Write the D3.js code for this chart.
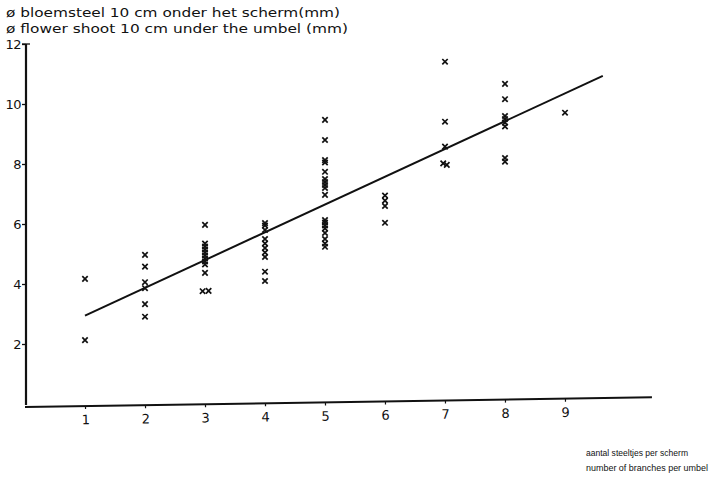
<!DOCTYPE html>
<html>
<head>
<meta charset="utf-8">
<script src="https://cdn.jsdelivr.net/npm/d3@7"></script>
<style>
  html, body { margin: 0; padding: 0; background: #fff; }
  svg { display: block; }
  text { font-family: "DejaVu Sans", sans-serif; fill: #111; }
</style>
</head>
<body>
<svg id="chart" width="711" height="481"></svg>
<script>
// Stem diameter (mm) measured 10 cm below the umbel, grouped by branch count
const branchCounts = [1, 2, 3, 4, 5, 6, 7, 8, 9];
const diam1 = [4.17, 2.13];
const diam2 = [4.97, 4.58, 4.06, 3.86, 3.33, 2.91];
const diam3 = [5.97, 5.35, 5.25, 5.15, 5.05, 4.95, 4.85, 4.75, 4.65, 4.37, 3.76, 3.77];
const diam4 = [6.03, 5.95, 5.8, 5.5, 5.35, 5.2, 5.05, 4.9, 4.41, 4.1];
const diam5 = [9.47, 8.8, 8.13, 8.05, 7.74, 7.5, 7.4, 7.3, 7.2, 6.97, 6.13, 6.05, 5.95, 5.85, 5.7, 5.5, 5.35, 5.24];
const diam6 = [6.95, 6.78, 6.6, 6.04];
const diam7 = [11.41, 9.41, 8.58, 8.02, 7.97];
const diam8 = [10.67, 10.16, 9.6, 9.5, 9.38, 9.25, 8.2, 8.08];
const diam9 = [9.71];
const diameters = [diam1, diam2, diam3, diam4, diam5, diam6, diam7, diam8, diam9];

// Fitted regression line
const trendIntercept = 2.02;
const trendSlope = 0.926;
const trendFrom = 1;
const trendTo = 9.63;

const yTicks = [2, 4, 6, 8, 10, 12];
const xTicks = [1, 2, 3, 4, 5, 6, 7, 8, 9];

const titleLines = [
  "ø bloemsteel 10 cm onder het scherm(mm)",
  "ø flower shoot 10 cm under the umbel (mm)"
];
const xLabelLines = [
  "aantal steeltjes per scherm",
  "number of branches per umbel"
];

const svg = d3.select("#chart");

const x = d3.scaleLinear().domain([0, 10.45]).range([25, 652]);
const y = d3.scaleLinear().domain([0, 12]).range([404, 44]);

// Flatten the groups into points; coincident readings are nudged apart
const points = [];
diameters.forEach((vals, i) => {
  vals.forEach((v, j) => {
    let bx = branchCounts[i];
    if (bx === 3 && j >= 10) bx += (j === 10 ? -0.04 : 0.06);
    if (bx === 7 && j >= 3) bx += (j === 3 ? -0.03 : 0.03);
    points.push({ b: bx, d: v });
  });
});

// Y axis
const yAxis = d3.axisLeft(y).tickValues(yTicks).tickSize(4).tickPadding(1).tickFormat(d3.format("d"));
const gy = svg.append("g").attr("transform", "translate(26,0)").call(yAxis);
gy.select(".domain").attr("stroke", "#111").attr("stroke-width", 2.2)
  .attr("d", `M0,${y(12)}V${y(0) + 1}`);
gy.selectAll(".tick line").attr("stroke", "#111").attr("stroke-width", 1.3);
gy.selectAll(".tick text").style("font-size", "13px").attr("dy", "0.36em").style("letter-spacing", "-0.5px");
// small cap at the top of the axis
svg.append("line").attr("x1", 22).attr("x2", 30).attr("y1", y(12)).attr("y2", y(12))
  .attr("stroke", "#111").attr("stroke-width", 1.3);

// X axis (drawn with a slight drift, as on the original sheet)
const xAxis = d3.axisBottom(x).tickValues(xTicks).tickSize(3).tickPadding(6).tickFormat(d3.format("d"));
const gx = svg.append("g")
  .attr("transform", `rotate(-0.88, 25, ${y(0) + 3}) translate(0, ${y(0) + 3})`)
  .call(xAxis);
gx.select(".domain").attr("stroke", "#111").attr("stroke-width", 2)
  .attr("d", `M${x(0)},0H${x(10.45)}`);
gx.selectAll(".tick line").attr("stroke", "#111").attr("stroke-width", 1.2);
gx.selectAll(".tick text").style("font-size", "13px");

// Regression line
svg.append("line")
  .attr("x1", x(trendFrom)).attr("y1", y(trendIntercept + trendSlope * trendFrom))
  .attr("x2", x(trendTo)).attr("y2", y(trendIntercept + trendSlope * trendTo))
  .attr("stroke", "#111").attr("stroke-width", 2);

// Cross markers
const s = 2.7;
svg.append("g").selectAll("path").data(points).join("path")
  .attr("d", p => {
    const cx = x(p.b), cy = y(p.d);
    return `M${cx - s},${cy - s}L${cx + s},${cy + s}M${cx - s},${cy + s}L${cx + s},${cy - s}`;
  })
  .attr("stroke", "#111").attr("stroke-width", 1.7).attr("fill", "none");

// Titles
svg.append("g").selectAll("text").data(titleLines).join("text")
  .attr("x", 6).attr("y", (d, i) => 17 + i * 16)
  .style("font-size", "13px")
  .attr("textLength", (d, i) => i === 0 ? 334 : 342)
  .attr("lengthAdjust", "spacingAndGlyphs")
  .text(d => d);

svg.append("g").selectAll("text").data(xLabelLines).join("text")
  .attr("x", 586).attr("y", (d, i) => 456 + i * 15)
  .style("font-family", "'Liberation Sans', Arial, sans-serif")
  .style("font-size", "9px")
  .attr("textLength", (d, i) => i === 0 ? 102 : 122)
  .attr("lengthAdjust", "spacingAndGlyphs")
  .text(d => d);
</script>
</body>
</html>
